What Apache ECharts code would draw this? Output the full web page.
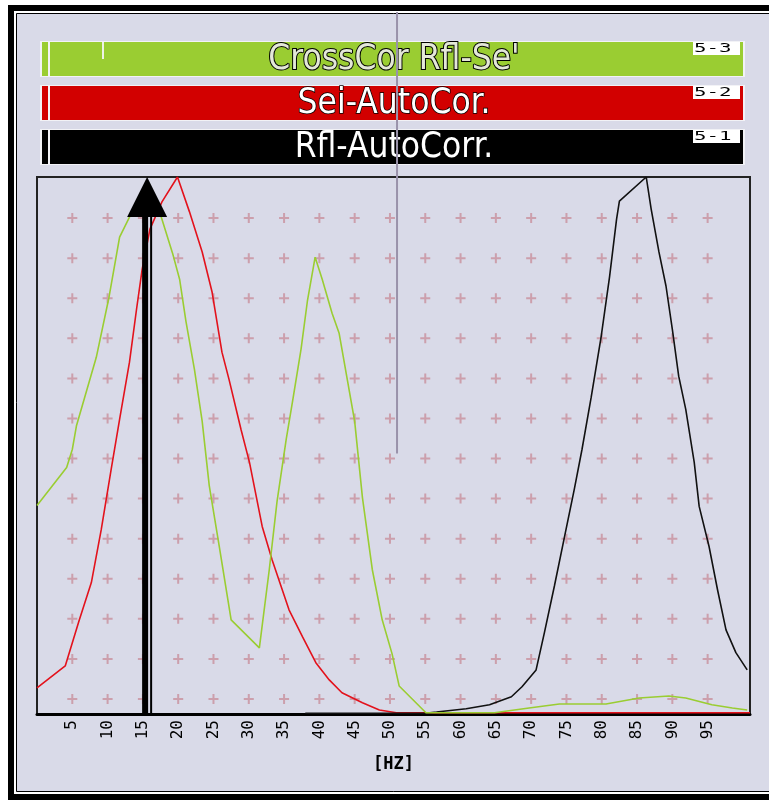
<!DOCTYPE html>
<html>
<head>
<meta charset="utf-8">
<script src="https://cdn.jsdelivr.net/npm/echarts@6/dist/echarts.min.js"></script>
<style>
  html, body { margin: 0; padding: 0; background: #fff; overflow: hidden; }
  #main { width: 769px; height: 800px; }
</style>
</head>
<body>
<div id="main"></div>
<script>
// frequency axis (Hz) and level axis (one unit = one row of grid crosses)
const hzMin = 0
const hzMax = 101
const levelMax = 13.4

const seriesNames = ["CrossCor Rfl-Se'", 'Sei-AutoCor.', 'Rfl-AutoCorr.']
const seriesTags = ['5-3', '5-2', '5-1']
const lineColors = ['#9acd32', '#e3121c', '#111111']
const barColors = ['#9acd32', '#d20000', '#000000']

// [Hz, level]
const crossCurve = [
  [0, 5.2], [4.2, 6.15], [5, 6.6], [5.6, 7.2], [8.4, 8.9], [10.2, 10.4], [11.7, 11.9],
  [13.1, 12.4], [15.2, 13.0], [17.6, 12.4], [19.2, 11.5], [20.2, 10.85], [21.1, 9.8],
  [22.3, 8.6], [23.4, 7.3], [24.4, 5.7], [25.8, 4.2], [27.5, 2.35], [31.5, 1.65],
  [32.9, 3.6], [34, 5.3], [35.3, 6.85], [36.2, 7.8], [37.4, 9.1], [38.3, 10.3],
  [39.4, 11.4], [40.4, 10.85], [41.8, 10.0], [42.8, 9.5], [44, 8.3], [45, 7.3],
  [46.1, 5.4], [47.5, 3.6], [48.9, 2.35], [50.3, 1.5], [51.3, 0.7], [55.1, 0.03],
  [64.8, 0.03], [69.7, 0.15], [74, 0.25], [80.6, 0.25], [85.3, 0.4], [89.5, 0.45],
  [91.9, 0.4], [95.6, 0.23], [98.5, 0.15], [100.6, 0.1]
]
const seiCurve = [
  [0, 0.65], [4, 1.2], [6, 2.35], [7.7, 3.28], [9.1, 4.6], [10.5, 6.1], [11.7, 7.35],
  [13.1, 8.78], [14.1, 10.1], [14.9, 11.1], [16.0, 12.1], [17.7, 12.78], [19.9, 13.4],
  [21.6, 12.53], [23.4, 11.53], [24.8, 10.53], [26.2, 9.03], [27.2, 8.35], [28.9, 7.1],
  [30.1, 6.28], [31.9, 4.68], [33.3, 3.85], [35.7, 2.6], [37.6, 1.93], [39.5, 1.28],
  [41.4, 0.85], [43.2, 0.53], [46.1, 0.28], [48.5, 0.1], [50.9, 0.03], [101, 0.03]
]
const rflCurve = [
  [38, 0.02], [55, 0.02], [56.6, 0.05], [60.8, 0.13], [64.1, 0.23], [67.2, 0.43],
  [68.7, 0.68], [70.7, 1.1], [71.9, 2.05], [73.3, 3.2], [74.7, 4.4], [76.1, 5.6],
  [77.2, 6.6], [78.5, 7.9], [79.9, 9.4], [81.1, 10.9], [82.1, 12.35], [82.5, 12.8],
  [86.3, 13.4], [87, 12.6], [88.1, 11.53], [89.1, 10.68], [90, 9.6], [90.9, 8.43],
  [91.9, 7.6], [93.1, 6.28], [93.8, 5.18], [95.2, 4.18], [96.4, 3.1], [97.6, 2.1],
  [99, 1.53], [100.6, 1.1]
]

// grid crosses
const crossHz = [5, 10, 15, 20, 25, 30, 35, 40, 45, 50, 55, 60, 65, 70, 75, 80, 85, 90, 95]
const crossLevels = [0.375, 1.375, 2.375, 3.375, 4.375, 5.375, 6.375, 7.375, 8.375, 9.375, 10.375, 11.375, 12.375]

// marker arrow and cursor
const arrowHz = [15.6]
const cursorHz = 51
const cursorLow = 6.5

const chart = echarts.init(document.getElementById('main'))

let crossData = []
crossHz.forEach(h => crossLevels.forEach(l => crossData.push([h, l])))

const curves = [crossCurve, seiCurve, rflCurve]

const option = {
  animation: false,
  backgroundColor: '#d9dae8',
  grid: {
    left: 37,
    right: 19,
    top: 177,
    bottom: 86,
    show: true,
    borderColor: '#222',
    borderWidth: 2,
    backgroundColor: 'transparent'
  },
  xAxis: {
    type: 'value',
    min: hzMin,
    max: hzMax,
    interval: 5,
    name: '[HZ]',
    nameLocation: 'middle',
    nameGap: 42,
    nameTextStyle: {
      color: '#000',
      fontFamily: 'DejaVu Sans Mono',
      fontWeight: 'bold',
      fontSize: 17
    },
    axisLine: { lineStyle: { color: '#000', width: 3 } },
    axisTick: { show: false },
    splitLine: { show: false },
    axisLabel: {
      rotate: 90,
      margin: 6,
      color: '#000',
      fontFamily: 'DejaVu Sans Mono',
      fontSize: 16,
      showMaxLabel: false,
      formatter: v => (v > 0 && v < 100 ? String(v) : '')
    }
  },
  yAxis: {
    type: 'value',
    min: 0,
    max: levelMax,
    show: false,
    splitLine: { show: false }
  },
  series: [
    {
      type: 'scatter',
      silent: true,
      symbol: 'path://M4,0h2v10h-2zM0,4h10v2h-10z',
      symbolSize: 10,
      itemStyle: { color: '#c8909c' },
      data: crossData,
      z: 1
    }
  ]
}

// red first, then black, green on top
;[1, 2, 0].forEach(i => {
  option.series.push({
    name: seriesNames[i],
    type: 'line',
    showSymbol: false,
    symbol: 'none',
    data: curves[i],
    lineStyle: { color: lineColors[i], width: 1.6 },
    z: 3
  })
})

/** 黑色箭头 */
option.series.push({
  type: 'custom',
  data: arrowHz.map(h => [h]),
  z: 10,
  renderItem: (params, api) => {
    const top = api.coord([api.value(0), levelMax])
    const bottom = api.coord([api.value(0), 0])
    const x = top[0]
    return {
      type: 'group',
      children: [
        { type: 'rect', shape: { x: x - 5, y: top[1] + 30, width: 6, height: bottom[1] - top[1] - 30 }, style: { fill: '#000' } },
        { type: 'rect', shape: { x: x + 3, y: top[1] + 30, width: 2, height: bottom[1] - top[1] - 30 }, style: { fill: '#000' } },
        { type: 'polygon', shape: { points: [[x - 20, top[1] + 40], [x, top[1]], [x + 20, top[1] + 40]] }, style: { fill: '#000' } }
      ]
    }
  }
})

chart.setOption(option)

/** 图例条、外框、游标线 */
const barTops = [42, 86, 130]
const barHeight = 34
let graphics = [
  { type: 'rect', shape: { x: 0, y: 0, width: 8, height: 800 }, style: { fill: '#fff' }, z: 50 },
  { type: 'rect', shape: { x: 0, y: 0, width: 769, height: 5 }, style: { fill: '#fff' }, z: 50 },
  { type: 'polyline', shape: { points: [[790, 8], [11, 8], [11, 797], [790, 797]] }, style: { fill: 'none', stroke: '#000', lineWidth: 6 }, z: 50 },
  { type: 'polyline', shape: { points: [[790, 12], [15, 12], [15, 793], [790, 793]] }, style: { fill: 'none', stroke: '#fff', lineWidth: 2 }, z: 50 },
  { type: 'polyline', shape: { points: [[790, 13.5], [16.5, 13.5], [16.5, 791.5], [790, 791.5]] }, style: { fill: 'none', stroke: '#000', lineWidth: 1 }, z: 50 }
]

const textStyles = [
  { fill: '#e4e8d8', stroke: '#000', lineWidth: 2 },
  { fill: '#fff', stroke: '#000', lineWidth: 1.5 },
  { fill: '#fff', stroke: null, lineWidth: 0 }
]

barTops.forEach((y, i) => {
  graphics.push(
    { type: 'rect', shape: { x: 40, y: y - 1, width: 705, height: barHeight + 2 }, style: { fill: '#f2f2f6' }, z: 60 },
    { type: 'rect', shape: { x: 42, y: y, width: 6, height: barHeight }, style: { fill: barColors[i] }, z: 61 },
    { type: 'rect', shape: { x: 50, y: y, width: 693, height: barHeight }, style: { fill: barColors[i] }, z: 61 },
    {
      type: 'text', x: 394, y: y + barHeight / 2 + 1, z: 62,
      style: Object.assign({
        text: seriesNames[i],
        align: 'center',
        verticalAlign: 'middle',
        font: '35px "DejaVu Sans Condensed", "DejaVu Sans", sans-serif'
      }, textStyles[i])
    },
    { type: 'rect', shape: { x: 693, y: y, width: 47, height: 13 }, style: { fill: '#fff' }, z: 62 },
    {
      type: 'text', x: 694, y: y + 7, z: 63, scaleX: 1.6,
      style: { text: seriesTags[i], fill: '#000', align: 'left', verticalAlign: 'middle', font: '13px "DejaVu Sans Mono", monospace' }
    }
  )
})
graphics.push({ type: 'rect', shape: { x: 102, y: 42, width: 2, height: 17 }, style: { fill: '#eef2e6' }, z: 63 })

const low = chart.convertToPixel({ gridIndex: 0 }, [cursorHz, cursorLow])
graphics.push({
  type: 'line',
  shape: { x1: low[0], y1: 12, x2: low[0], y2: low[1] },
  style: { stroke: '#9a92aa', lineWidth: 2 },
  z: 70
})

chart.setOption({ graphic: graphics })
</script>
</body>
</html>
